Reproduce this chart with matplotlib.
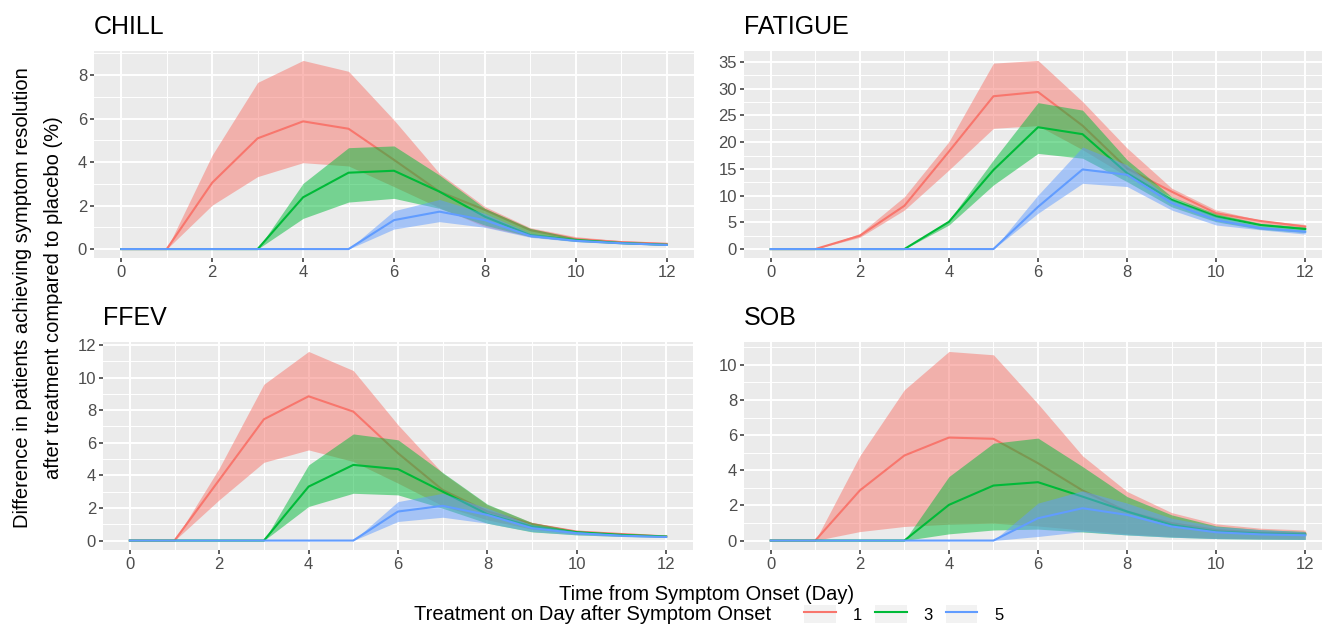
import matplotlib
matplotlib.use("Agg")
import matplotlib.pyplot as plt
from matplotlib.lines import Line2D
from matplotlib.patches import Patch
from matplotlib.legend_handler import HandlerTuple
from matplotlib.ticker import MultipleLocator

plt.rcParams['font.family'] = ['Liberation Sans', 'DejaVu Sans']

days = list(range(13))
treat_days = ["1", "3", "5"]
colors = ["#F8766D", "#00BA38", "#619CFF"]

# CHILL
chill_d1 = [0, 0, 3.05, 5.09, 5.87, 5.53, 4.1, 2.64, 1.8, 0.87, 0.46, 0.32, 0.24]
chill_d1_hi = [0, 0, 4.32, 7.66, 8.67, 8.17, 5.93, 3.48, 1.95, 0.98, 0.57, 0.38, 0.29]
chill_d1_lo = [0, 0, 2.02, 3.33, 3.97, 3.82, 2.87, 1.9, 1.03, 0.57, 0.37, 0.25, 0.18]
chill_d3 = [0, 0, 0, 0, 2.38, 3.51, 3.6, 2.64, 1.49, 0.64, 0.41, 0.28, 0.2]
chill_d3_hi = [0, 0, 0, 0, 3.02, 4.66, 4.74, 3.4, 1.87, 0.95, 0.5, 0.33, 0.24]
chill_d3_lo = [0, 0, 0, 0, 1.41, 2.16, 2.33, 1.87, 1.1, 0.57, 0.35, 0.24, 0.17]
chill_d5 = [0, 0, 0, 0, 0, 0, 1.33, 1.72, 1.33, 0.6, 0.38, 0.27, 0.19]
chill_d5_hi = [0, 0, 0, 0, 0, 0, 1.76, 2.28, 1.64, 0.72, 0.45, 0.3, 0.22]
chill_d5_lo = [0, 0, 0, 0, 0, 0, 0.92, 1.26, 1.0, 0.54, 0.34, 0.24, 0.17]

# FATIGUE
fatigue_d1 = [0, 0, 2.5, 8.1, 18.25, 28.6, 29.4, 23.1, 15.1, 10.75, 6.7, 5.25, 4.2]
fatigue_d1_hi = [0, 0, 2.9, 9.8, 20.1, 34.8, 35.3, 27.6, 18.9, 11.4, 7.3, 5.4, 4.6]
fatigue_d1_lo = [0, 0, 2.2, 7.3, 14.8, 22.6, 23.1, 18.6, 13.6, 9.8, 6.1, 4.8, 3.9]
fatigue_d3 = [0, 0, 0, 0, 5.1, 14.8, 22.8, 21.5, 14.2, 9.2, 6.1, 4.5, 3.75]
fatigue_d3_hi = [0, 0, 0, 0, 5.4, 16.7, 27.4, 26.0, 16.7, 9.8, 6.6, 4.8, 4.1]
fatigue_d3_lo = [0, 0, 0, 0, 4.5, 12.0, 17.9, 17.0, 12.6, 7.9, 5.1, 3.7, 3.1]
fatigue_d5 = [0, 0, 0, 0, 0, 0, 7.9, 14.9, 13.9, 8.6, 5.4, 3.9, 3.25]
fatigue_d5_hi = [0, 0, 0, 0, 0, 0, 10.1, 19.1, 15.75, 9.2, 6.1, 4.3, 3.6]
fatigue_d5_lo = [0, 0, 0, 0, 0, 0, 6.7, 12.3, 11.7, 7.3, 4.5, 3.6, 2.8]

# FFEV
ffev_d1 = [0, 0, 3.72, 7.44, 8.85, 7.91, 5.36, 3.1, 1.78, 1.02, 0.55, 0.4, 0.25]
ffev_d1_hi = [0, 0, 4.44, 9.59, 11.6, 10.43, 7.1, 4.13, 2.19, 1.1, 0.61, 0.45, 0.3]
ffev_d1_lo = [0, 0, 2.5, 4.8, 5.56, 4.85, 3.52, 2.13, 1.27, 0.7, 0.41, 0.3, 0.2]
ffev_d3 = [0, 0, 0, 0, 3.31, 4.64, 4.38, 3.0, 1.62, 0.86, 0.51, 0.35, 0.25]
ffev_d3_hi = [0, 0, 0, 0, 4.64, 6.54, 6.18, 4.17, 2.23, 1.1, 0.59, 0.4, 0.3]
ffev_d3_lo = [0, 0, 0, 0, 2.09, 2.9, 2.8, 1.98, 1.06, 0.53, 0.35, 0.25, 0.2]
ffev_d5 = [0, 0, 0, 0, 0, 0, 1.78, 2.13, 1.57, 0.76, 0.45, 0.3, 0.22]
ffev_d5_hi = [0, 0, 0, 0, 0, 0, 2.39, 2.9, 1.98, 0.96, 0.55, 0.35, 0.27]
ffev_d5_lo = [0, 0, 0, 0, 0, 0, 1.17, 1.43, 1.06, 0.55, 0.35, 0.25, 0.18]

# SOB
sob_d1 = [0, 0, 2.85, 4.84, 5.86, 5.79, 4.4, 2.85, 1.65, 0.99, 0.6, 0.45, 0.4]
sob_d1_hi = [0, 0, 4.82, 8.58, 10.76, 10.57, 7.78, 4.82, 2.79, 1.59, 0.95, 0.7, 0.6]
sob_d1_lo = [0, 0, 0.51, 0.8, 0.93, 0.99, 0.83, 0.6, 0.38, 0.23, 0.13, 0.1, 0.08]
sob_d3 = [0, 0, 0, 0, 2.03, 3.13, 3.32, 2.5, 1.65, 0.89, 0.51, 0.4, 0.35]
sob_d3_hi = [0, 0, 0, 0, 3.64, 5.54, 5.83, 4.21, 2.5, 1.46, 0.83, 0.62, 0.52]
sob_d3_lo = [0, 0, 0, 0, 0.38, 0.6, 0.65, 0.49, 0.32, 0.19, 0.11, 0.08, 0.06]
sob_d5 = [0, 0, 0, 0, 0, 0, 1.27, 1.84, 1.46, 0.8, 0.47, 0.35, 0.3]
sob_d5_hi = [0, 0, 0, 0, 0, 0, 2.13, 2.83, 2.13, 1.27, 0.8, 0.62, 0.5]
sob_d5_lo = [0, 0, 0, 0, 0, 0, 0.23, 0.51, 0.32, 0.19, 0.11, 0.08, 0.06]

W, H = 1322, 627


def panel_rect(x0, x1, ytop, ybot):
    return [x0 / W, 1 - ybot / H, (x1 - x0) / W, (ybot - ytop) / H]


def draw_panel(ax, title, series, step):
    ax.set_facecolor("#EBEBEB")
    for (mid, lo, hi), c in zip(series, colors):
        ax.fill_between(days, lo, hi, color=c, alpha=0.5, linewidth=0, zorder=3)
        ax.plot(days, mid, color=c, linewidth=1.5, zorder=3)
    top = max(max(s[2]) for s in series)
    pad = top * 0.05
    ax.set_ylim(-pad, top + pad)
    ax.set_xlim(-0.6, 12.6)
    ax.xaxis.set_major_locator(MultipleLocator(2))
    ax.xaxis.set_minor_locator(MultipleLocator(1))
    ax.yaxis.set_major_locator(MultipleLocator(step))
    ax.yaxis.set_minor_locator(MultipleLocator(step / 2))
    ax.grid(which="major", color="white", linewidth=1.4, zorder=0)
    ax.grid(which="minor", color="white", linewidth=0.7, zorder=0)
    ax.set_axisbelow(True)
    for sp in ax.spines.values():
        sp.set_visible(False)
    ax.tick_params(which="major", length=3, width=1.1, color="#333333",
                   labelcolor="#4D4D4D", labelsize=12, pad=2)
    ax.tick_params(which="minor", length=0)
    ax.set_title(title, loc="left", fontsize=18, pad=12)


fig = plt.figure(figsize=(W / 100, H / 100), dpi=100)

panels = [
    ("CHILL", panel_rect(94, 694, 51, 258.5), 2,
     [(chill_d1, chill_d1_lo, chill_d1_hi), (chill_d3, chill_d3_lo, chill_d3_hi),
      (chill_d5, chill_d5_lo, chill_d5_hi)]),
    ("FATIGUE", panel_rect(744, 1332, 51, 258.5), 5,
     [(fatigue_d1, fatigue_d1_lo, fatigue_d1_hi), (fatigue_d3, fatigue_d3_lo, fatigue_d3_hi),
      (fatigue_d5, fatigue_d5_lo, fatigue_d5_hi)]),
    ("FFEV", panel_rect(103, 693, 342, 550), 2,
     [(ffev_d1, ffev_d1_lo, ffev_d1_hi), (ffev_d3, ffev_d3_lo, ffev_d3_hi),
      (ffev_d5, ffev_d5_lo, ffev_d5_hi)]),
    ("SOB", panel_rect(744, 1332, 342, 550), 2,
     [(sob_d1, sob_d1_lo, sob_d1_hi), (sob_d3, sob_d3_lo, sob_d3_hi),
      (sob_d5, sob_d5_lo, sob_d5_hi)]),
]

for title, rect, step, series in panels:
    ax = fig.add_axes(rect)
    draw_panel(ax, title, series, step)

fig.text(38 / W, 1 - 298 / H,
         "Difference in patients achieving symptom resolution\n"
         "after treatment compared to placebo (%)",
         rotation=90, ha="center", va="center", fontsize=14.5,
         linespacing=1.85, multialignment="center")
fig.text(707 / W, 1 - 594 / H, "Time from Symptom Onset (Day)",
         ha="center", va="center", fontsize=14.5)
fig.text(414 / W, 1 - 615 / H, "Treatment on Day after Symptom Onset",
         ha="left", va="center", fontsize=14.5)

handles = [(Patch(facecolor="#F2F2F2", edgecolor="none"),
            Line2D([], [], color=c, linewidth=1.5)) for c in colors]
fig.legend(handles, treat_days, loc="center left",
           bbox_to_anchor=(804 / W, 1 - 614 / H), ncol=3, frameon=False,
           fontsize=12, handlelength=1.9, handleheight=1.2,
           handletextpad=1.0, columnspacing=0.8, borderpad=0, borderaxespad=0,
           handler_map={tuple: HandlerTuple(ndivide=1, pad=0)})

fig.savefig("out.png", dpi=100)
plt.close(fig)
